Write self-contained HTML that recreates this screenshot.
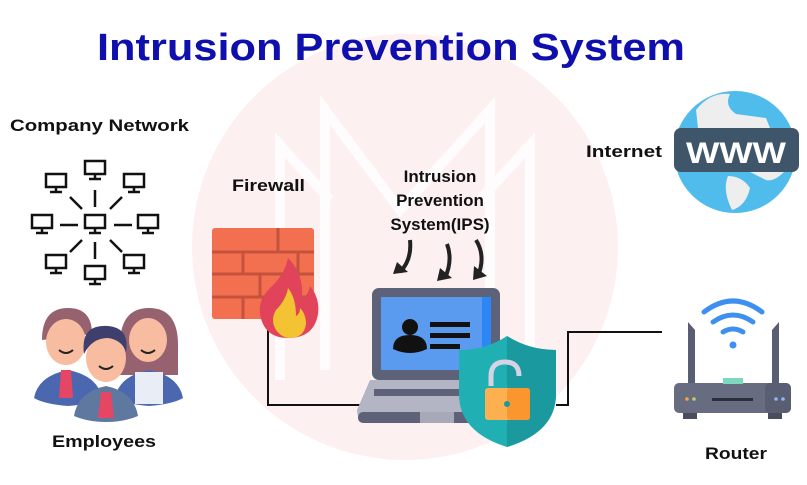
<!DOCTYPE html>
<html><head><meta charset="utf-8"><style>
html,body{margin:0;padding:0;background:#fff}
svg{display:block}
text{font-family:"Liberation Sans",sans-serif;font-weight:bold}
</style></head><body>
<svg width="807" height="485" viewBox="0 0 807 485" xmlns="http://www.w3.org/2000/svg">
<defs>
<g id="pc" fill="none" stroke="#111" stroke-width="2.5"><rect x="-10" y="-9" width="20" height="13"/><line x1="0" y1="4" x2="0" y2="9"/><line x1="-6" y1="9" x2="6" y2="9"/></g>
</defs>
<rect width="807" height="485" fill="#fff"/>
<circle cx="405" cy="247" r="213" fill="#fdf0f1"/>
<g fill="none" stroke="#fff" stroke-width="10" opacity="0.8">
<polyline points="280,380 280,145 330,200"/>
<polyline points="325,370 325,110 400,210 490,110 490,370"/>
<polyline points="530,380 530,145 480,200"/>
</g>
<text x="97" y="60" font-size="38" fill="#0f0fae" textLength="588" lengthAdjust="spacingAndGlyphs">Intrusion Prevention System</text>
<text x="10" y="131" font-size="17" fill="#111" textLength="179" lengthAdjust="spacingAndGlyphs">Company Network</text>
<text x="232" y="191" font-size="17" fill="#111" textLength="73" lengthAdjust="spacingAndGlyphs">Firewall</text>
<g font-size="17" fill="#111" text-anchor="middle">
<text x="440" y="182">Intrusion</text>
<text x="440" y="206">Prevention</text>
<text x="440" y="230">System(IPS)</text>
</g>
<text x="586" y="157" font-size="17" fill="#111" textLength="76" lengthAdjust="spacingAndGlyphs">Internet</text>
<text x="52" y="447" font-size="17" fill="#111" textLength="104" lengthAdjust="spacingAndGlyphs">Employees</text>
<text x="705" y="459" font-size="17" fill="#111" textLength="62" lengthAdjust="spacingAndGlyphs">Router</text>

<!-- network -->
<use href="#pc" x="95" y="224"/><use href="#pc" x="95" y="170"/><use href="#pc" x="56" y="183"/><use href="#pc" x="134" y="183"/>
<use href="#pc" x="42" y="224"/><use href="#pc" x="148" y="224"/><use href="#pc" x="56" y="264"/><use href="#pc" x="134" y="264"/><use href="#pc" x="95" y="275"/>
<g stroke="#111" stroke-width="2.5">
<line x1="95" y1="190" x2="95" y2="207"/><line x1="95" y1="242" x2="95" y2="259"/>
<line x1="60" y1="225" x2="78" y2="225"/><line x1="114" y1="225" x2="132" y2="225"/>
<line x1="70" y1="197" x2="82" y2="209"/><line x1="122" y1="197" x2="110" y2="209"/>
<line x1="70" y1="252" x2="82" y2="240"/><line x1="122" y1="252" x2="110" y2="240"/>
</g>

<!-- employees -->
<g>
<path d="M120,345 q0,-37 29,-37 q29,0 29,37 v30 h-58z" fill="#966270"/>
<path d="M115,398 q4,-22 34,-28 q30,6 34,28 q-10,6 -34,8 q-24,-2 -34,-8z" fill="#4a67b0"/>
<rect x="135" y="372" width="28" height="32" fill="#e9edf5"/>
<ellipse cx="148" cy="340" rx="19" ry="22" fill="#f8bca0"/>
<path d="M34,398 q4,-22 34,-28 q30,6 34,28 q-10,6 -34,8 q-24,-2 -34,-8z" fill="#4a67b0"/>
<path d="M42,340 q0,-32 26,-32 q24,0 24,26 z" fill="#966270"/>
<ellipse cx="66" cy="342" rx="20" ry="23" fill="#f8bca0"/>
<polygon points="61,370 71,370 73,398 59,398" fill="#e54664"/>
<path d="M74,416 q4,-24 32,-30 q28,6 32,30 q-14,6 -32,6 q-18,0 -32,-6z" fill="#5f78a0"/>
<ellipse cx="106" cy="358" rx="20" ry="24" fill="#f8bca0"/>
<path d="M84,354 q-4,-30 24,-28 q22,2 18,26 q-4,-12 -18,-14 q-16,0 -24,16z" fill="#3f3f6e"/>
<polygon points="101,392 111,392 114,418 98,418" fill="#e54664"/>
<path d="M99,366 q7,6 14,0" stroke="#222" stroke-width="2" fill="none"/>
<path d="M59,350 q7,6 14,0" stroke="#222" stroke-width="2" fill="none"/>
<path d="M141,350 q7,6 14,0" stroke="#222" stroke-width="2" fill="none"/>
</g>

<g fill="none" stroke="#111" stroke-width="2">
<polyline points="268,330 268,405 365,405"/>
<polyline points="556,405 568,405 568,332 662,332"/>
</g>

<!-- firewall -->
<rect x="212" y="228" width="102" height="91" rx="3" fill="#f26f50"/>
<g stroke="#c4523d" stroke-width="3">
<line x1="212" y1="252" x2="314" y2="252"/><line x1="212" y1="274" x2="314" y2="274"/><line x1="212" y1="297" x2="314" y2="297"/>
<line x1="278" y1="228" x2="278" y2="252"/><line x1="243" y1="252" x2="243" y2="274"/><line x1="298" y1="252" x2="298" y2="274"/>
<line x1="260" y1="274" x2="260" y2="297"/><line x1="243" y1="297" x2="243" y2="319"/>
</g>
<path d="M288,258 q-4,18 -18,30 q-12,12 -10,26 q4,24 28,24 q26,0 30,-24 q2,-16 -8,-28 q-2,10 -8,12 q2,-24 -14,-40z" fill="#e0435a"/>
<path d="M288,288 q-2,12 -12,22 q-6,10 0,20 q6,8 14,8 q14,0 16,-14 q0,-10 -6,-16 q0,6 -4,8 q0,-18 -8,-28z" fill="#f3c334"/>

<g fill="none" stroke="#222" stroke-width="4">
<path d="M410,240 q2,20 -10,32"/><path d="M447,244 q6,16 -2,34"/><path d="M476,240 q10,16 2,36"/>
</g>
<g fill="#222">
<polygon points="393,274 408,272 397,262"/><polygon points="437,281 452,278 440,268"/><polygon points="473,280 487,276 474,266"/>
</g>

<!-- laptop -->
<rect x="372" y="288" width="128" height="92" rx="7" fill="#5d6278"/>
<rect x="381" y="297" width="110" height="73" fill="#5a9bf0"/>
<rect x="482" y="297" width="9" height="73" fill="#2a87f5"/>
<circle cx="410" cy="327" r="8" fill="#111"/>
<path d="M393,349 q0,-14 17,-14 q17,0 17,14 q-17,8 -34,0z" fill="#111"/>
<rect x="430" y="322" width="40" height="5" fill="#111"/>
<rect x="430" y="333" width="40" height="5" fill="#111"/>
<rect x="430" y="344" width="30" height="5" fill="#111"/>
<path d="M370,380 h106 l10,30 q0,12 -10,12 h-106 q-13,0 -13,-12z" fill="#b3b4c4"/>
<rect x="374" y="389" width="90" height="7" fill="#5d6278"/>
<rect x="358" y="412" width="120" height="11" rx="5" fill="#5d6278"/>
<rect x="420" y="412" width="34" height="11" fill="#a8a9b8"/>

<!-- shield -->
<path d="M507,336 q22,14 49,14 v44 q0,38 -49,53 q-48,-15 -48,-53 v-44 q27,0 48,-14z" fill="#20b0b4"/>
<path d="M507,336 q22,14 49,14 v44 q0,38 -49,53z" fill="#1a9a9f"/>
<path d="M491,386 v-10 q0,-14 14,-14 q14,0 14,14" fill="none" stroke="#d6d3e4" stroke-width="5"/>
<rect x="485" y="388" width="45" height="32" rx="3" fill="#fdb050"/>
<rect x="507" y="388" width="23" height="32" rx="3" fill="#fb962e"/>
<circle cx="507" cy="404" r="3" fill="#1a9a9f"/>

<!-- globe -->
<circle cx="735" cy="152" r="61" fill="#4fbcec"/>
<path d="M696,110 q14,-18 34,-16 q-6,12 6,20 l30,4 l4,10 h-72z M728,176 q-6,14 4,34 q14,-4 18,-22 q-8,-12 -22,-12z M750,172 h34 q-10,10 -18,8z" fill="#eeeeee"/>
<rect x="674" y="128" width="125" height="44" rx="7" fill="#3f566a"/>
<text x="736" y="163" font-size="30" fill="#fff" text-anchor="middle" textLength="100" lengthAdjust="spacingAndGlyphs">WWW</text>

<!-- router -->
<path d="M688,322 l7,8 v56 h-7z M779,322 l-7,8 v56 h7z" fill="#5a5e72"/>
<rect x="674" y="383" width="117" height="30" rx="5" fill="#686c80"/>
<rect x="765" y="383" width="26" height="30" rx="5" fill="#5a5e72"/>
<rect x="723" y="378" width="20" height="6" fill="#7dd8c2"/>
<rect x="712" y="398" width="41" height="3" fill="#2b2d3a"/>
<rect x="683" y="413" width="14" height="6" fill="#4a4d5d"/><rect x="768" y="413" width="14" height="6" fill="#4a4d5d"/>
<circle cx="687" cy="399" r="1.8" fill="#f7a24b"/><circle cx="694" cy="399" r="1.8" fill="#b6d06a"/>
<circle cx="776" cy="399" r="1.8" fill="#8fb6f5"/><circle cx="783" cy="399" r="1.8" fill="#8fb6f5"/>
<g fill="none" stroke="#3d8ff0" stroke-width="5" stroke-linecap="round">
<path d="M704,312 q29,-22 58,0"/><path d="M713,322 q20,-14 40,0"/><path d="M723,332 q10,-6 20,0"/>
</g>
<circle cx="733" cy="345" r="3.5" fill="#3d8ff0"/>
</svg>
</body></html>
